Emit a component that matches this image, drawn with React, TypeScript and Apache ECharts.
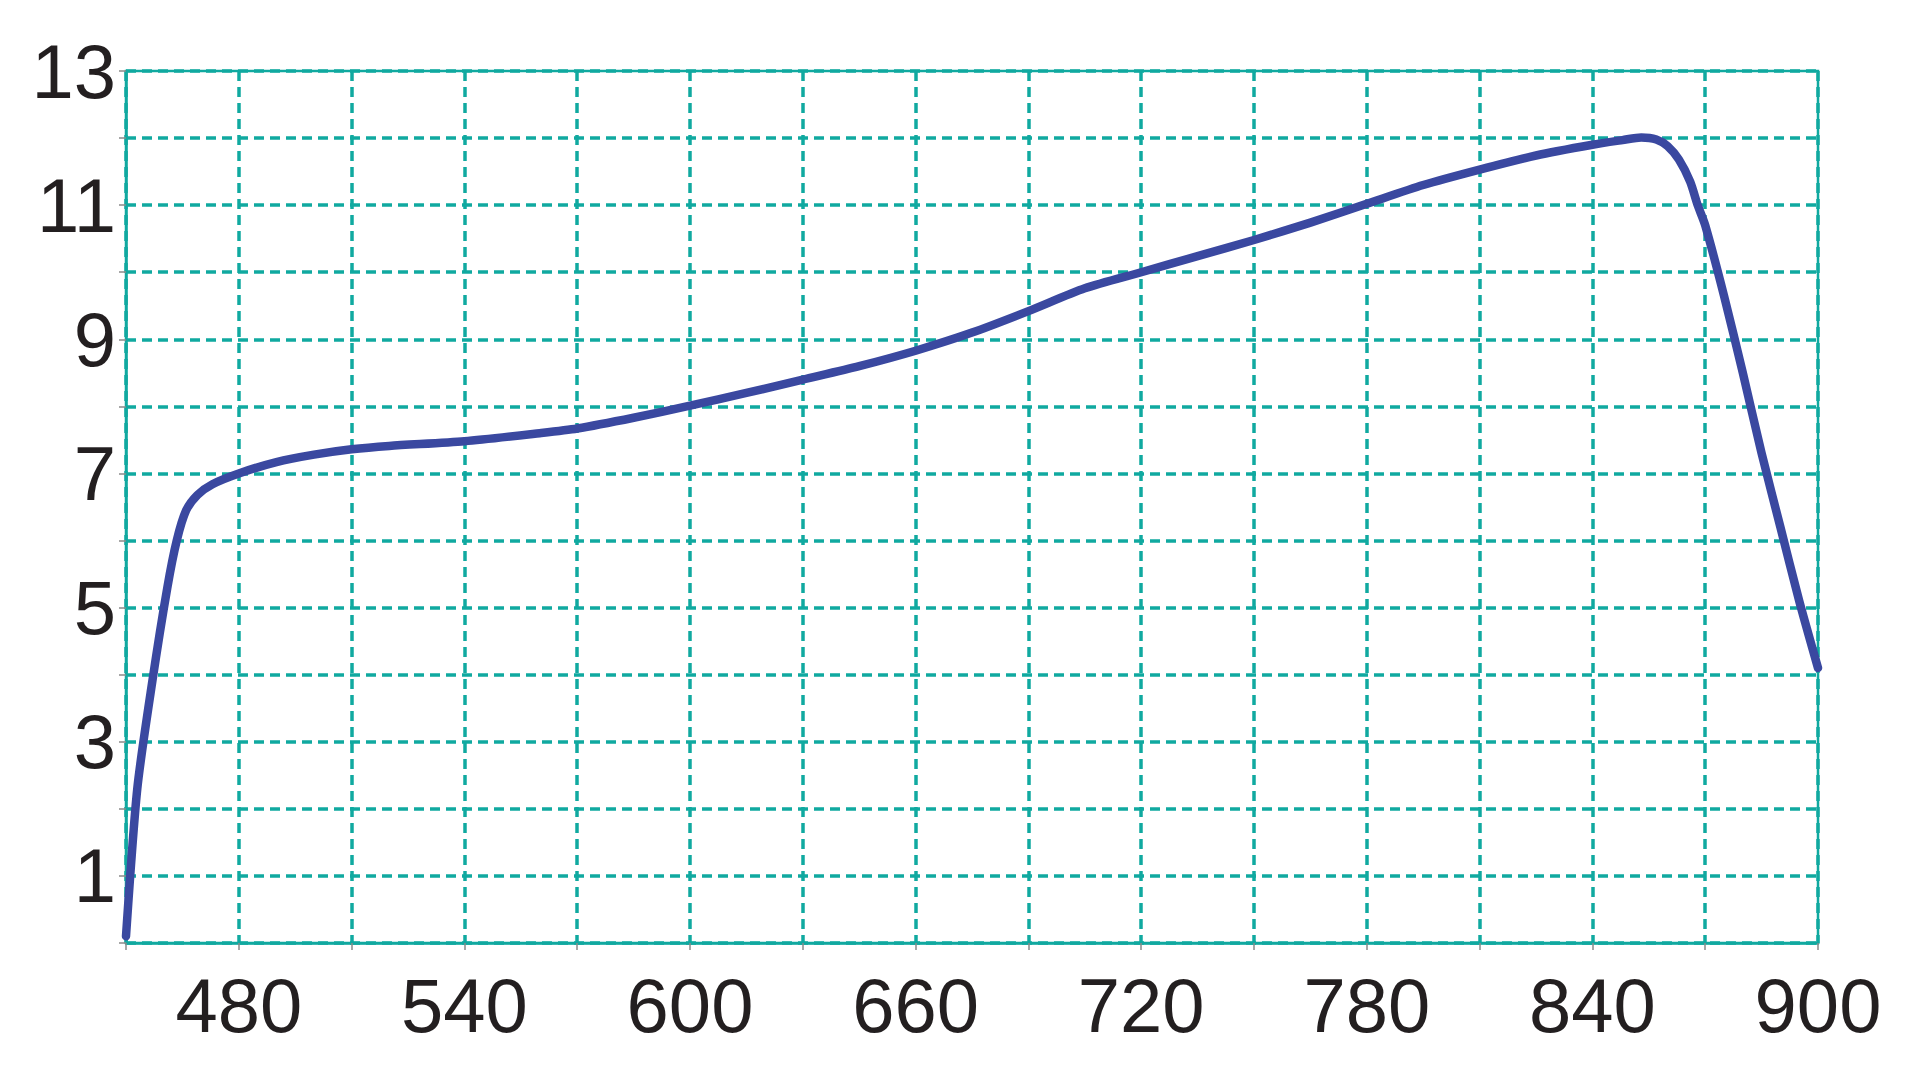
import React, { useEffect, useRef } from "react";
import * as echarts from "echarts";

const wavelengths = [
  450, 453, 457, 461, 463.5, 466, 469, 473, 480, 490, 500, 510, 520, 540, 560, 570, 585,
  600, 615, 630, 645, 660, 675, 690, 705, 720, 735, 750, 765, 780, 795, 810, 825, 840, 848, 853, 857,
  860, 863, 866, 868, 870, 875, 880, 885, 890, 895, 900,
];
const values = [
  0.1, 2.3, 3.9, 5.3, 6.0, 6.45, 6.68, 6.84, 7.0, 7.17, 7.28, 7.36, 7.41, 7.48, 7.6, 7.67, 7.83,
  8.01, 8.2, 8.4, 8.6, 8.83, 9.1, 9.42, 9.76, 10.0, 10.24, 10.48, 10.74, 11.02, 11.3, 11.53, 11.74, 11.9, 11.97, 12.01, 11.98,
  11.88, 11.68, 11.35, 11.0, 10.7, 9.65, 8.5, 7.3, 6.2, 5.1, 4.1,
];
const xLabelValues = [480, 540, 600, 660, 720, 780, 840, 900];
const yLabelValues = [1, 3, 5, 7, 9, 11, 13];

const TEAL = "#10a9a0";
const LINE = "#3a48a0";
const TEXT = "#231f20";
const FONT = "'Liberation Sans', Arial, sans-serif";

export default function App() {
  const ref = useRef<HTMLDivElement>(null);
  useEffect(() => {
    if (!ref.current) return;
    const chart = echarts.init(ref.current, undefined, { renderer: "svg" });
    const data = wavelengths.map((w, i) => [w, values[i]]);
    chart.setOption({
      animation: false,
      backgroundColor: "#ffffff",
      grid: {
        left: 126,
        right: 102,
        top: 71,
        bottom: 137,
        show: true,
        borderColor: TEAL,
        borderWidth: 2.5,
        backgroundColor: "#ffffff",
      },
      xAxis: {
        type: "value",
        min: 450,
        max: 900,
        interval: 30,
        axisLine: { show: true, lineStyle: { color: TEAL, width: 2.5 } },
        axisTick: { show: true, length: 7, lineStyle: { color: "#8a8a8a", width: 1.5 } },
        splitLine: { show: true, lineStyle: { color: TEAL, width: 3.5, type: [10, 6] } },
        axisLabel: {
          margin: 24,
          fontSize: 76,
          fontFamily: FONT,
          color: TEXT,
          formatter: (v: number) => (xLabelValues.includes(v) ? String(v) : ""),
        },
      },
      yAxis: {
        type: "value",
        min: 0,
        max: 13,
        interval: 1,
        axisLine: { show: true, lineStyle: { color: TEAL, width: 2.5 } },
        axisTick: { show: true, length: 7, lineStyle: { color: "#8a8a8a", width: 1.5 } },
        splitLine: { show: true, lineStyle: { color: TEAL, width: 3.5, type: [10, 6] } },
        axisLabel: {
          margin: 10,
          fontSize: 76,
          fontFamily: FONT,
          color: TEXT,
          formatter: (v: number) => (yLabelValues.includes(v) ? String(v) : ""),
        },
      },
      series: [
        {
          type: "line",
          data,
          showSymbol: false,
          smooth: 0.25,
          lineStyle: { color: LINE, width: 8.5, cap: "round", join: "round" },
          z: 5,
        },
      ],
    });
    return () => chart.dispose();
  }, []);
  return (
    <div
      ref={ref}
      style={{ position: "fixed", left: 0, top: 0, width: 1920, height: 1080, background: "#fff" }}
    />
  );
}
